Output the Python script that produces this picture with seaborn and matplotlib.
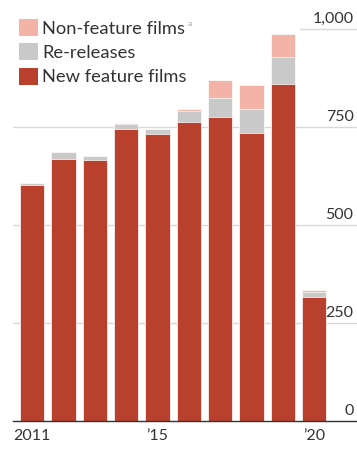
import matplotlib
matplotlib.use("Agg")
import matplotlib.pyplot as plt
import matplotlib.transforms as mtransforms
from matplotlib.patches import Patch
import numpy as np
import pandas as pd
import seaborn as sns

# Films released per year, split by type
years = ["2011", "2012", "2013", "2014", "2015", "2016", "2017", "2018", "2019", "2020"]
new_feature = [602, 668, 666, 745, 732, 763, 775, 735, 860, 316]
re_releases = [6, 18, 10, 12, 13, 28, 49, 61, 68, 13]
non_feature = [0, 0, 0, 3, 0, 5, 46, 61, 59, 5]

tick_labels = {0: "2011", 4: "\u201915", 9: "\u201920"}
y_ticks = [0, 250, 500, 750, 1000]
y_tick_labels = ["0", "250", "500", "750", "1,000"]

RED = "#b9402d"
GREY = "#c9c9c9"
PINK = "#f3b4a7"
GRID = "#d8d8d8"
TEXT = "#333333"

sns.set_style("white")
plt.rcParams["font.family"] = ["Lato", "DejaVu Sans"]

df = pd.DataFrame({
    "year": years,
    "new": new_feature,
    "re": re_releases,
    "non": non_feature,
})
df["new_re"] = df["new"] + df["re"]
df["total"] = df["new_re"] + df["non"]

W, H = 357, 451
fig = plt.figure(figsize=(W / 100, H / 100), dpi=100)
ax = fig.add_axes([13 / W, 30 / H, (W - 13) / W, 404 / H])

# layered stacked bars: tallest stack first, base segment last
for col, color in [("total", PINK), ("new_re", GREY), ("new", RED)]:
    sns.barplot(data=df, x="year", y=col, color=color, width=0.78,
                saturation=1, edgecolor="white", linewidth=0.5, ax=ax, zorder=3)

ax.set_xlim(-0.61, 10.37)
ax.set_ylim(0, 1030)

# horizontal gridlines with labels sitting above them on the right
for v, lab in zip(y_ticks[1:], y_tick_labels[1:]):
    xmin = 287 / (W - 13) if v == 1000 else 0
    ax.axhline(v, xmin=xmin, xmax=1, color=GRID, lw=1, zorder=1)
trans = mtransforms.blended_transform_factory(ax.transAxes, ax.transData)
offset = mtransforms.offset_copy(trans, fig=fig, x=0, y=3, units="dots")
for v, lab in zip(y_ticks, y_tick_labels):
    ax.text(0.99, v, lab, transform=offset, ha="right", va="bottom",
            fontsize=11.5, color=TEXT, zorder=5)

ax.set_yticks([])
ax.set_ylabel("")
ax.set_xlabel("")
ax.set_xticks(list(tick_labels.keys()))
ax.set_xticklabels(list(tick_labels.values()), fontsize=11.5, color=TEXT)
ax.tick_params(axis="x", length=4, width=1, color=TEXT, pad=2)

for side in ["top", "right", "left"]:
    ax.spines[side].set_visible(False)
ax.spines["bottom"].set_color(TEXT)
ax.spines["bottom"].set_linewidth(1)
ax.spines["bottom"].set_zorder(6)

handles = [Patch(facecolor=PINK, edgecolor="none"),
           Patch(facecolor=GREY, edgecolor="none"),
           Patch(facecolor=RED, edgecolor="none")]
labels = ["Non-feature films", "Re-releases", "New feature films"]
leg = ax.legend(handles, labels, loc="upper left",
                bbox_to_anchor=(19 / W, 1 - 19 / H), bbox_transform=fig.transFigure,
                frameon=False, fontsize=13.2, handlelength=1.05, handleheight=1.05,
                handletextpad=0.22, labelspacing=0.36, borderpad=0, borderaxespad=0)
for t in leg.get_texts():
    t.set_color(TEXT)

# footnote marker on the first legend entry
fig.canvas.draw()
bb = leg.get_texts()[0].get_window_extent()
fig.text((bb.x1 + 2) / W, (bb.y1 + 1) / H, "a", fontsize=6, color="#999999",
         ha="left", va="top")

fig.savefig("out.png", dpi=100)
